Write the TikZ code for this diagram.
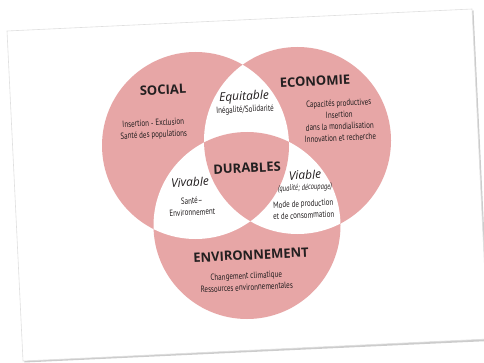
\documentclass[tikz,border=0pt]{standalone}
\usepackage{fontspec}
\setmainfont{Open Sans}
\newfontfamily\cond[FakeStretch=0.78]{PT Sans}
\definecolor{pinkc}{RGB}{231,166,166}
\definecolor{txt}{RGB}{35,31,32}
\begin{document}
\begin{tikzpicture}[x=1pt,y=1pt,
  title/.style={font=\fontsize{13}{13}\selectfont\bfseries, text=txt, rotate=2.8, inner sep=0},
  ital/.style={font=\fontsize{12}{12}\selectfont\itshape, text=txt, rotate=2.8, inner sep=0},
  small/.style={font=\cond\fontsize{9}{11.6}\selectfont, text=txt, align=center, rotate=2.8, inner sep=0},
  tiny/.style={font=\cond\fontsize{8.5}{9}\selectfont\itshape, text=txt, rotate=2.8, inner sep=0}]
\useasboundingbox (0,0) rectangle (484,362);
% card with shadow
\fill[gray!40] (8.5,329.5) -- (473.5,351.5) -- (489.5,21) -- (24.5,-0.5) -- cycle;
\fill[white, draw=gray!25, line width=0.6] (7,331) coordinate (tl) -- (472,353) coordinate (tr) -- (488,23) coordinate (br) -- (23,1) coordinate (bl) -- cycle;
% circle centres
\coordinate (S) at (195.5,216.5);
\coordinate (E) at (297.5,221.5);
\coordinate (V) at (247,136.5);
\def\R{93.5}
\fill[pinkc] (S) circle (\R);
\fill[pinkc] (E) circle (\R);
\fill[pinkc] (V) circle (\R);
\begin{scope}\clip (S) circle (\R); \fill[white] (E) circle (\R); \end{scope}
\begin{scope}\clip (S) circle (\R); \fill[white] (V) circle (\R); \end{scope}
\begin{scope}\clip (E) circle (\R); \fill[white] (V) circle (\R); \end{scope}
\begin{scope}\clip (S) circle (\R); \clip (E) circle (\R); \fill[pinkc] (V) circle (\R); \end{scope}
% labels
\node[title] (social) at (163,272) {SOCIAL};
\node[title] (eco) at (315,281) {ECONOMIE};
\node[title] (env) at (251,107) {ENVIRONNEMENT};
\node[title] (dur) at (247,194) {DURABLES};
\node[ital] (equ) at (244,265) {Equitable};
\node[ital] (viv) at (190,180) {Vivable};
\node[ital] (via) at (305,187) {Viable};
\node[small] (ineg) at (245,252) {Inégalité/Solidarité};
\node[small] (soct) at (153.5,232.5) {Insertion - Exclusion\\Santé des populations};
\node[small] (ecot) at (339.5,241.5) {Capacités productives\\Insertion\\dans la mondialisation\\Innovation et recherche};
\node[small] (vivt) at (192,155.5) {Santé–\\Environnement};
\node[tiny] (qual) at (305,174) {(qualité; découpage)};
\node[small] (viat) at (303.5,152.5) {Mode de production\\et de consommation};
\node[small] (envt) at (246.5,80.5) {Changement climatique\\Ressources environnementales};
\end{tikzpicture}
\end{document}
